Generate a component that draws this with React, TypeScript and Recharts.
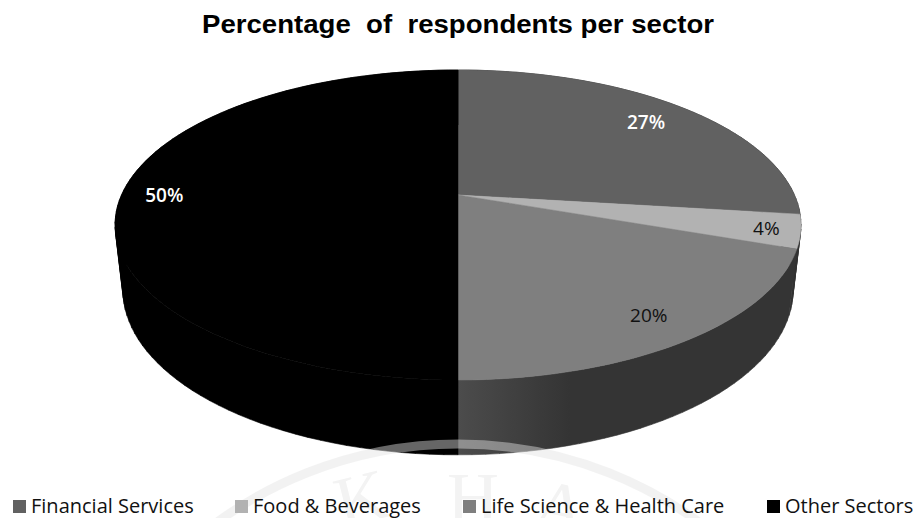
import React from 'react';
import { PieChart, Pie, Cell } from 'recharts';

const sectors = ['Financial Services', 'Food & Beverages', 'Life Science & Health Care', 'Other Sectors'];
const shares = [27, 3.5, 19.5, 50];
const topColors = ['#616161', '#b2b2b2', '#7f7f7f', '#000000'];
const sideColors = ['#333333', '#333333', '#333333', '#000000'];
const labelColors = ['#ffffff', '#111111', '#111111', '#ffffff'];
const labelWeights = [600, 400, 400, 600];
// how far out along the slice's middle each percent label sits
const labelReach = [0.84, 0.9, 0.83, 0.873];
const legendLeft = [13, 235, 463, 767];

const chartData = sectors.map((name, i) => ({ name, value: shares[i] }));

// tilt of the disc: vertical squash and perspective strength
const SQUASH = 0.4434;
const PERSPECTIVE = 0.1935;
const RAD = Math.PI / 180;

type Pt = { x: number; y: number };

// projects a pie angle (recharts degrees) on to the tilted disc
const project = (cx: number, cy: number, rx: number, ry: number, angle: number): Pt => {
  const t = (90 - angle) * RAD;
  const d = 1 + PERSPECTIVE * Math.cos(t);
  return { x: cx + (rx * Math.sin(t)) / d, y: cy - (ry * Math.cos(t)) / d };
};

const arcPoints = (cx: number, cy: number, rx: number, ry: number, a0: number, a1: number) => {
  const steps = Math.max(2, Math.ceil(Math.abs(a1 - a0) / 2));
  const pts: Pt[] = [];
  for (let i = 0; i <= steps; i++) {
    pts.push(project(cx, cy, rx, ry, a0 + ((a1 - a0) * i) / steps));
  }
  return pts;
};

const toPath = (pts: Pt[]) =>
  pts.map((p, i) => `${i ? 'L' : 'M'}${p.x.toFixed(1)},${p.y.toFixed(1)}`).join(' ') + ' Z';

// one quad per step, all wound the same way, so the silhouette between rims gets filled
const wallPath = (top: Pt[], under: Pt[]) => {
  let d = '';
  for (let i = 0; i < top.length - 1; i++) {
    const quad = [top[i], top[i + 1], under[i + 1], under[i]];
    const area = quad.reduce((sum, p, j) => {
      const q = quad[(j + 1) % 4];
      return sum + p.x * q.y - q.x * p.y;
    }, 0);
    d += toPath(area < 0 ? quad.reverse() : quad) + ' ';
  }
  return d;
};

const TiltedSlice = (props: any) => {
  const { cx, cy, outerRadius, startAngle, endAngle, fill, index } = props;
  const ry = outerRadius * SQUASH;
  const top = arcPoints(cx, cy, outerRadius, ry, startAngle, endAngle);
  // underside of the disc, slightly narrower and lower
  const under = arcPoints(cx, cy + 63, outerRadius * 0.977, ry * 1.064, startAngle, endAngle);
  const side = index === 2 ? 'url(#frontWall)' : sideColors[index];
  return (
    <g>
      <path d={wallPath(top, under)} fill={side} stroke={side} strokeWidth={0.6} />
      <path d={toPath([{ x: cx, y: cy }, ...top])} fill={fill} stroke={fill} strokeWidth={0.5} />
    </g>
  );
};

const SliceLabel = (props: any) => {
  const { cx, cy, outerRadius, midAngle, index, value } = props;
  const reach = labelReach[index];
  const p = project(cx, cy, outerRadius * reach, outerRadius * SQUASH * reach, midAngle);
  return (
    <text
      x={p.x}
      y={p.y}
      textAnchor="middle"
      dominantBaseline="central"
      fontFamily="Open Sans"
      fontSize={19}
      fontWeight={labelWeights[index]}
      fill={labelColors[index]}
    >
      {Math.round(value)}%
    </text>
  );
};

const App = () => (
  <div style={{ position: 'absolute', left: 0, top: 0, width: 914, height: 518, background: '#fff', overflow: 'hidden' }}>
    <svg width={914} height={518} style={{ position: 'absolute', left: 0, top: 0 }}>
      <text
        x={458}
        y={33}
        textAnchor="middle"
        fontFamily="Liberation Sans"
        fontWeight={700}
        fontSize={25}
        fill="#000"
        xmlSpace="preserve"
        textLength={512}
        lengthAdjust="spacingAndGlyphs"
      >
        Percentage  of  respondents per sector
      </text>
    </svg>
    <div style={{ position: 'absolute', left: 0, top: 0 }}>
      <PieChart width={914} height={518} margin={{ top: 0, right: 0, bottom: 0, left: 0 }}>
        <defs>
          <linearGradient id="frontWall" gradientUnits="userSpaceOnUse" x1={458} y1={0} x2={570} y2={0}>
            <stop offset="0" stopColor="#4c4c4c" />
            <stop offset="1" stopColor="#343434" />
          </linearGradient>
        </defs>
        <Pie
          data={chartData}
          dataKey="value"
          nameKey="name"
          cx={458}
          cy={195}
          outerRadius={336.5}
          startAngle={90}
          endAngle={-270}
          stroke="none"
          isAnimationActive={false}
          shape={TiltedSlice}
          label={SliceLabel}
          labelLine={false}
        >
          {chartData.map((d, i) => (
            <Cell key={d.name} fill={topColors[i]} />
          ))}
        </Pie>
      </PieChart>
    </div>
    {/* faint seal printed across the bottom of the page */}
    <svg width={914} height={518} style={{ position: 'absolute', left: 0, top: 0, pointerEvents: 'none' }}>
      <circle cx={458} cy={854} r={410} fill="none" stroke="#e2e2e2" strokeOpacity={0.45} strokeWidth={9} />
      <g fontFamily="Liberation Serif" fontSize={72} fill="#f3f3f3">
        <text x={342} y={528} transform="rotate(-14 342 528)">K</text>
        <text x={447} y={522}>H</text>
        <text x={530} y={526} transform="rotate(12 530 526)">A</text>
      </g>
    </svg>
    {sectors.map((name, i) => (
      <div
        key={name}
        style={{
          position: 'absolute',
          left: legendLeft[i],
          top: 494,
          display: 'flex',
          alignItems: 'center',
          fontFamily: 'Open Sans',
          fontSize: 20,
          lineHeight: '24px',
          color: '#111',
          whiteSpace: 'nowrap',
        }}
      >
        <span style={{ width: 13, height: 13, background: topColors[i], marginRight: 5 }} />
        {name}
      </div>
    ))}
  </div>
);

export default App;
